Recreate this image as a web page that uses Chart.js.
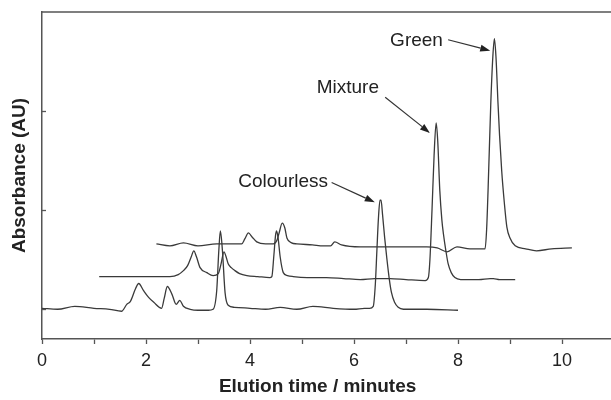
<!DOCTYPE html>
<html>
<head>
<meta charset="utf-8">
<script src="https://cdn.jsdelivr.net/npm/chart.js@4.4.0/dist/chart.umd.min.js"></script>
<style>
  html, body { margin: 0; padding: 0; overflow: hidden; background: #fff; }
  #wrap { width: 620px; height: 400px; }
</style>
</head>
<body>
<div id="wrap"><canvas id="chromChart" width="620" height="400"></canvas></div>
<script>
// elution time (min) and absorbance (AU, offset baselines) for each run
const colourlessTime = [0.00,0.30,0.63,1.00,1.30,1.53,1.63,1.70,1.80,1.86,1.95,2.05,2.15,2.30,2.35,2.41,2.50,2.58,2.65,2.72,2.85,3.00,3.20,3.29,3.36,3.40,3.43,3.47,3.52,3.58,3.70,4.00,4.30,4.58,4.90,5.21,5.60,6.00,6.20,6.30,6.37,6.41,6.44,6.47,6.50,6.52,6.55,6.59,6.63,6.68,6.72,6.78,6.85,6.95,7.40,8.00];
const colourlessAbs  = [0.01,0.00,0.03,0.01,0.00,-0.02,0.05,0.08,0.21,0.26,0.19,0.12,0.07,0.01,0.11,0.23,0.15,0.05,0.09,0.03,0.00,-0.01,-0.01,0.00,0.19,0.59,0.79,0.59,0.17,0.04,0.02,0.01,0.00,0.02,0.00,0.03,0.01,0.00,0.01,0.01,0.03,0.25,0.59,0.92,1.10,1.10,0.95,0.72,0.52,0.30,0.17,0.07,0.02,0.00,0.00,-0.01];

const mixtureTime = [1.10,1.40,1.70,2.00,2.30,2.46,2.62,2.72,2.80,2.87,2.92,2.97,3.04,3.17,3.29,3.39,3.44,3.50,3.54,3.58,3.64,3.71,3.80,3.94,4.15,4.38,4.42,4.46,4.49,4.51,4.54,4.58,4.64,4.72,4.83,5.10,5.47,5.80,6.12,6.40,6.69,7.00,7.37,7.43,7.46,7.50,7.54,7.58,7.61,7.65,7.69,7.72,7.77,7.81,7.87,7.94,8.05,8.17,8.40,8.62,8.68,8.80,9.10];
const mixtureAbs  = [0.33,0.33,0.33,0.33,0.33,0.33,0.35,0.39,0.44,0.53,0.59,0.53,0.42,0.37,0.34,0.36,0.45,0.58,0.53,0.46,0.42,0.39,0.36,0.34,0.33,0.32,0.33,0.55,0.74,0.79,0.72,0.53,0.37,0.34,0.33,0.32,0.32,0.31,0.30,0.31,0.31,0.30,0.29,0.32,0.50,1.00,1.55,1.88,1.70,1.20,0.90,0.76,0.58,0.46,0.37,0.32,0.30,0.30,0.30,0.31,0.31,0.30,0.30];

const greenTime = [2.20,2.46,2.72,3.00,3.36,3.60,3.84,3.90,3.97,4.04,4.13,4.30,4.45,4.52,4.56,4.62,4.67,4.71,4.80,4.90,5.20,5.41,5.55,5.63,5.76,6.12,6.60,7.00,7.40,7.60,7.79,7.98,8.23,8.52,8.55,8.58,8.63,8.67,8.70,8.73,8.77,8.80,8.84,8.89,8.94,9.00,9.10,9.30,9.51,9.80,10.19];
const greenAbs  = [0.66,0.64,0.67,0.64,0.66,0.66,0.66,0.71,0.77,0.73,0.68,0.66,0.66,0.70,0.77,0.87,0.82,0.72,0.67,0.66,0.65,0.64,0.64,0.68,0.65,0.63,0.63,0.63,0.63,0.62,0.58,0.63,0.61,0.61,0.80,1.23,2.07,2.55,2.73,2.55,2.07,1.75,1.40,1.08,0.83,0.72,0.64,0.61,0.59,0.61,0.62];

const xTicks = [0, 2, 4, 6, 8, 10];

// peak labels: text end point and arrow (from -> to), all in data units
const peakLabels = [
  { text: 'Colourless', tx: 5.50, ty: 1.23, from: [5.57, 1.28], to: [6.40, 1.08] },
  { text: 'Mixture',    tx: 6.48, ty: 2.18, from: [6.60, 2.14], to: [7.46, 1.78] },
  { text: 'Green',      tx: 7.71, ty: 2.66, from: [7.81, 2.72], to: [8.62, 2.61] }
];

const FONT = '"Liberation Sans", Arial, Helvetica, sans-serif';
const INK = '#222';
const AXIS = '#555';

const toPoints = (t, a) => t.map((x, i) => ({ x: x, y: a[i] }));

const trace = (label, t, a) => ({
  label: label,
  data: toPoints(t, a),
  borderColor: '#3a3a3a',
  borderWidth: 1.3,
  pointRadius: 0,
  fill: false,
  cubicInterpolationMode: 'monotone'
});

const decorations = {
  id: 'decorations',
  afterDraw(chart) {
    const { ctx, chartArea: area, scales: { x, y } } = chart;
    ctx.save();

    // top frame line
    ctx.strokeStyle = AXIS;
    ctx.lineWidth = 1.5;
    ctx.beginPath();
    ctx.moveTo(area.left, area.top);
    ctx.lineTo(area.right, area.top);
    ctx.stroke();

    // short inward ticks on the absorbance axis
    ctx.lineWidth = 1.3;
    y.ticks.forEach(tk => {
      const py = Math.round(y.getPixelForValue(tk.value)) + 0.5;
      if (py < area.top + 2 || py > area.bottom - 2) return;
      ctx.beginPath();
      ctx.moveTo(area.left, py);
      ctx.lineTo(area.left + 4, py);
      ctx.stroke();
    });

    // peak labels with arrows
    ctx.fillStyle = INK;
    ctx.strokeStyle = '#333';
    ctx.font = '19px ' + FONT;
    ctx.textAlign = 'right';
    ctx.textBaseline = 'alphabetic';
    peakLabels.forEach(p => {
      ctx.fillText(p.text, x.getPixelForValue(p.tx), y.getPixelForValue(p.ty));
      const x0 = x.getPixelForValue(p.from[0]), y0 = y.getPixelForValue(p.from[1]);
      const x1 = x.getPixelForValue(p.to[0]),   y1 = y.getPixelForValue(p.to[1]);
      const ang = Math.atan2(y1 - y0, x1 - x0);
      const len = 10, half = 3.5;
      const bx = x1 - len * Math.cos(ang), by = y1 - len * Math.sin(ang);
      ctx.lineWidth = 1.2;
      ctx.beginPath();
      ctx.moveTo(x0, y0);
      ctx.lineTo(bx, by);
      ctx.stroke();
      ctx.beginPath();
      ctx.moveTo(x1, y1);
      ctx.lineTo(bx + half * Math.sin(ang), by - half * Math.cos(ang));
      ctx.lineTo(bx - half * Math.sin(ang), by + half * Math.cos(ang));
      ctx.closePath();
      ctx.fill();
    });

    // axis titles
    ctx.font = 'bold 19px ' + FONT;
    ctx.textAlign = 'center';
    ctx.textBaseline = 'middle';
    ctx.fillText('Elution time / minutes', x.getPixelForValue(5.3), 387);
    ctx.translate(20, (area.top + area.bottom) / 2);
    ctx.rotate(-Math.PI / 2);
    ctx.fillText('Absorbance (AU)', 0, 0);

    ctx.restore();
  }
};

const ctx = document.getElementById('chromChart').getContext('2d');
const chromChart = new Chart(ctx, {
  type: 'line',
  data: {
    datasets: [
      trace('Colourless', colourlessTime, colourlessAbs),
      trace('Mixture', mixtureTime, mixtureAbs),
      trace('Green', greenTime, greenAbs)
    ]
  },
  options: {
    responsive: false,
    animation: false,
    layout: { padding: { top: 12, right: 6, left: 0, bottom: 0 } },
    plugins: { legend: { display: false }, tooltip: { enabled: false } },
    scales: {
      x: {
        type: 'linear',
        min: 0,
        max: 11,
        ticks: {
          stepSize: 1,
          autoSkip: false,
          maxRotation: 0,
          padding: 6,
          color: INK,
          font: { family: FONT, size: 18 },
          callback: v => xTicks.includes(v) ? String(v) : ''
        },
        grid: { drawOnChartArea: false, tickLength: 5, tickColor: AXIS, tickWidth: 1.3 },
        border: { color: AXIS, width: 1.5 },
        afterFit: s => { s.height = 61; }
      },
      y: {
        type: 'linear',
        min: -0.3,
        max: 3,
        ticks: { stepSize: 1, display: false },
        grid: { drawOnChartArea: false, drawTicks: false },
        border: { color: AXIS, width: 1.5 },
        afterFit: s => { s.width = 42; }
      }
    }
  },
  plugins: [decorations]
});
</script>
</body>
</html>
